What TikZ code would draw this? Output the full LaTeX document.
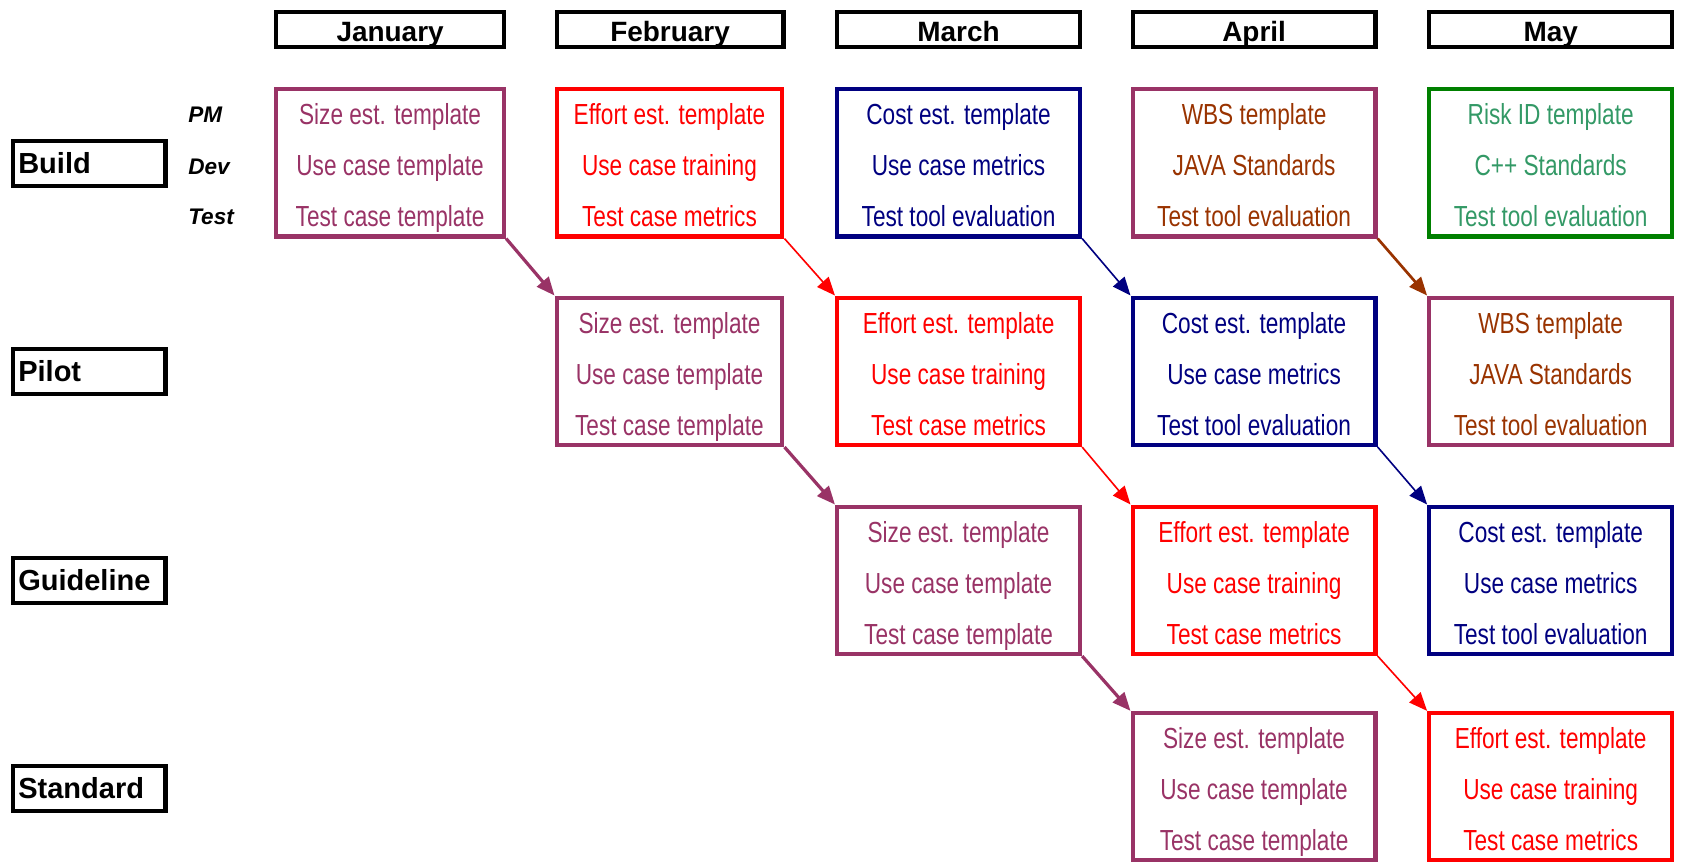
\documentclass[tikz,border=0pt]{standalone}
\usepackage{fontspec}
\setmainfont{Liberation Sans}
\newfontfamily\narrowfont[FakeStretch=0.78]{Liberation Sans}
\usetikzlibrary{arrows.meta}
\definecolor{plum}{HTML}{993366}
\definecolor{brick}{HTML}{993300}
\definecolor{navyblue}{HTML}{000080}
\definecolor{leafgreen}{HTML}{008000}
\definecolor{seagreen}{HTML}{339966}
\newcommand{\tasks}[3]{\rule{0pt}{33pt}#1\\#2\\#3\rule[-9pt]{0pt}{9pt}}
\begin{document}
\begin{tikzpicture}[x=1pt,y=-1pt,
    month/.style={draw,line width=4pt,minimum width=#1,minimum height=33pt,inner sep=0pt,
        text height=23pt,text depth=0pt,font=\fontsize{26}{30}\selectfont\bfseries},
    stage/.style={draw,line width=4pt,text width=132pt,minimum height=42pt,inner sep=5pt,align=left,
        font=\fontsize{27}{30}\selectfont\bfseries},
    role/.style={anchor=west,inner sep=0pt,font=\fontsize{21}{24}\selectfont\bfseries\itshape},
    cell/.style n args={3}{draw=#1,text=#2,line width=4pt,minimum width=#3,minimum height=136pt,
        inner sep=0pt,align=center,font=\fontsize{27}{47.5}\narrowfont},
    flow/.style={-{Triangle[length=17pt,width=14pt]},line width=#1}]
    \useasboundingbox (0,0) rectangle (1568,803);
    \node[month=212pt] (jan) at (363,27.5) {January};
    \node[month=211pt] (feb) at (623.5,27.5) {February};
    \node[month=226pt] (mar) at (892,27.5) {March};
    \node[month=226pt] (apr) at (1167,27.5) {April};
    \node[month=226pt] (may) at (1443,27.5) {May};
    \node[stage] (build) at (83,152) {Build};
    \node[stage] (pilot) at (83,345.5) {Pilot};
    \node[stage] (guide) at (83,540) {Guideline};
    \node[stage] (std) at (83,733.5) {Standard};
    \node[role] (pm) at (175,107) {PM};
    \node[role] (dev) at (175,155) {Dev};
    \node[role] (test) at (175,202) {Test};
    \node[cell={plum}{plum}{212pt}] (jb) at (363,151.5) {\tasks{Size est. template}{Use case template}{Test case template}};
    \node[cell={red}{red}{210pt}] (fb) at (623,151.5) {\tasks{Effort est. template}{Use case training}{Test case metrics}};
    \node[cell={navyblue}{navyblue}{226pt}] (mb) at (892,151.5) {\tasks{Cost est. template}{Use case metrics}{Test tool evaluation}};
    \node[cell={plum}{brick}{226pt}] (ab) at (1167,151.5) {\tasks{WBS template}{JAVA Standards}{Test tool evaluation}};
    \node[cell={leafgreen}{seagreen}{226pt}] (yb) at (1443,151.5) {\tasks{Risk ID template}{C++ Standards}{Test tool evaluation}};
    \node[cell={plum}{plum}{210pt}] (fp) at (623,345.5) {\tasks{Size est. template}{Use case template}{Test case template}};
    \node[cell={red}{red}{226pt}] (mp) at (892,345.5) {\tasks{Effort est. template}{Use case training}{Test case metrics}};
    \node[cell={navyblue}{navyblue}{226pt}] (ap) at (1167,345.5) {\tasks{Cost est. template}{Use case metrics}{Test tool evaluation}};
    \node[cell={plum}{brick}{226pt}] (yp) at (1443,345.5) {\tasks{WBS template}{JAVA Standards}{Test tool evaluation}};
    \node[cell={plum}{plum}{226pt}] (mg) at (892,540) {\tasks{Size est. template}{Use case template}{Test case template}};
    \node[cell={red}{red}{226pt}] (ag) at (1167,540) {\tasks{Effort est. template}{Use case training}{Test case metrics}};
    \node[cell={navyblue}{navyblue}{226pt}] (yg) at (1443,540) {\tasks{Cost est. template}{Use case metrics}{Test tool evaluation}};
    \node[cell={plum}{plum}{226pt}] (as) at (1167,732) {\tasks{Size est. template}{Use case template}{Test case template}};
    \node[cell={red}{red}{226pt}] (ys) at (1443,732) {\tasks{Effort est. template}{Use case training}{Test case metrics}};
    \draw[flow=3pt,plum] (jb.south east) -- (fp.north west);
    \draw[flow=1.5pt,red] (fb.south east) -- (mp.north west);
    \draw[flow=1.5pt,navyblue] (mb.south east) -- (ap.north west);
    \draw[flow=2.5pt,brick] (ab.south east) -- (yp.north west);
    \draw[flow=3pt,plum] (fp.south east) -- (mg.north west);
    \draw[flow=1.5pt,red] (mp.south east) -- (ag.north west);
    \draw[flow=1.5pt,navyblue] (ap.south east) -- (yg.north west);
    \draw[flow=3pt,plum] (mg.south east) -- (as.north west);
    \draw[flow=1.5pt,red] (ag.south east) -- (ys.north west);
\end{tikzpicture}
\end{document}
